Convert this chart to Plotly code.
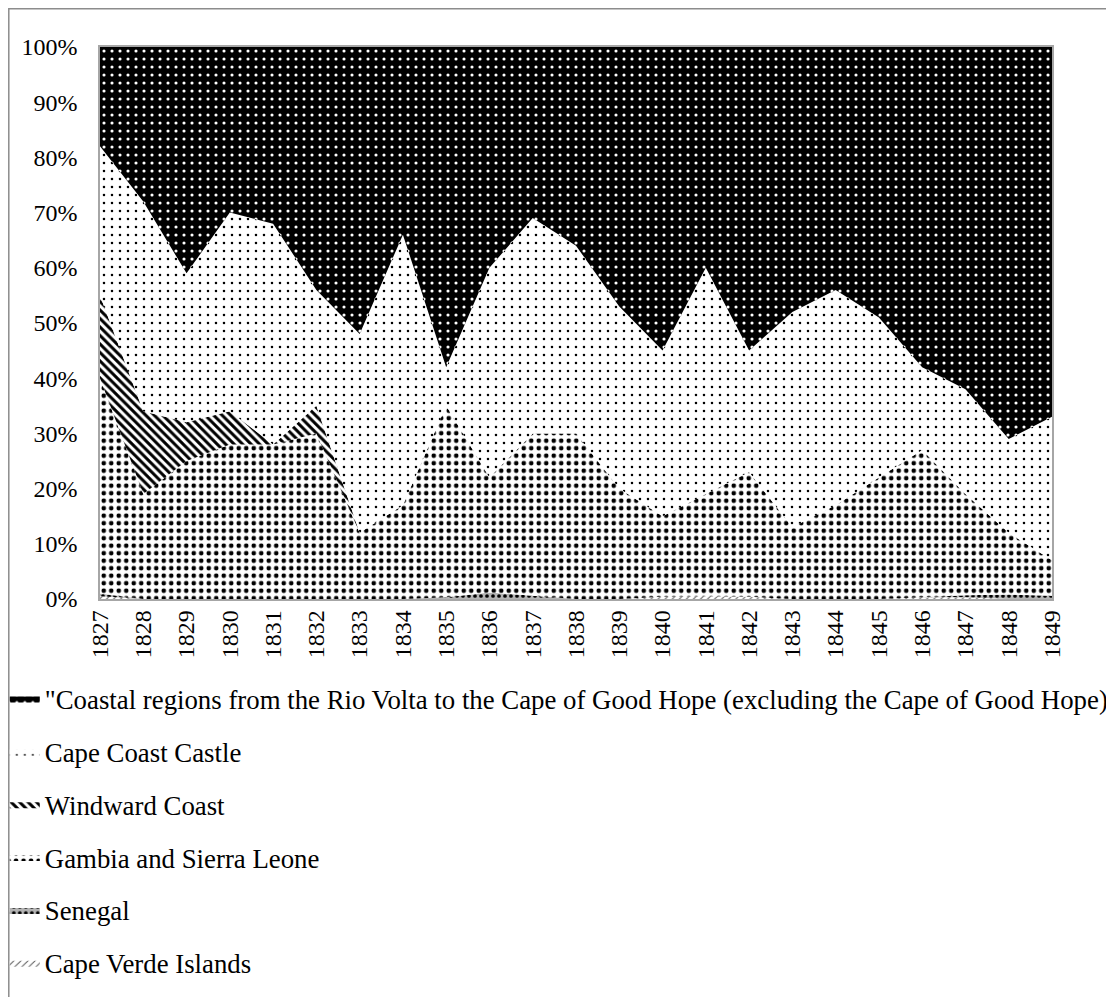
import plotly.graph_objects as go

years = list(range(1827, 1850))

# shares per year (percent of the total)
cape_verde = [0.5, 0, 0, 0, 0, 0, 0, 0, 0, 0, 0, 0, 0, 0.4, 0.5, 0.4, 0, 0, 0, 0.3, 0.3, 0, 0]
senegal = [0.5, 0, 0, 0, 0, 0, 0, 0, 0.3, 1.2, 0.6, 0, 0, 0, 0, 0, 0, 0, 0, 0, 0.4, 0.8, 0.6]
gambia_sierra_leone = [39, 19, 25, 28, 28, 30, 12, 17, 34.7, 20.8, 29.4, 30, 20, 14.6, 18.5,
                       22.6, 13, 17, 22, 26.7, 18.3, 11.2, 6.4]
windward_coast = [15, 15, 7, 6, 0, 5, 0, 0, 0, 0, 0, 0, 0, 0, 0, 0, 0, 0, 0, 0, 0, 0, 0]
cape_coast_castle = [27, 38, 27, 36, 40, 21, 36, 49, 7, 38, 39, 34, 33, 30, 41, 22, 39, 39,
                     29, 15, 19, 17, 26]
coastal_volta_cape = [18, 28, 41, 30, 32, 44, 52, 34, 58, 40, 31, 36, 47, 55, 40, 55, 48, 44,
                      49, 58, 62, 71, 67]

y_ticks = list(range(0, 101, 10))
y_ticktext = [f"{v}%" for v in y_ticks]

series = [
    ("Cape Verde Islands", cape_verde,
     dict(shape="/", fgcolor="#555555", bgcolor="white", size=5, solidity=0.2)),
    ("Senegal", senegal,
     dict(shape=".", fgcolor="black", bgcolor="#b4b4b4", size=6, solidity=0.3)),
    ("Gambia and Sierra Leone", gambia_sierra_leone,
     dict(shape=".", fgcolor="black", bgcolor="white", size=7.5, solidity=0.3)),
    ("Windward Coast", windward_coast,
     dict(shape="\\", fgcolor="black", bgcolor="white", size=6, solidity=0.5)),
    ("Cape Coast Castle", cape_coast_castle,
     dict(shape=".", fgcolor="black", bgcolor="white", size=8, solidity=0.08)),
    ("\"Coastal regions from the Rio Volta to the Cape of Good Hope (excluding the Cape of Good Hope)",
     coastal_volta_cape,
     dict(shape=".", fgcolor="white", bgcolor="black", size=8, solidity=0.12)),
]

FONT = "Liberation Serif, Times New Roman, serif"

fig = go.Figure()
for i, (name, vals, pat) in enumerate(series):
    fig.add_trace(
        go.Scatter(
            x=years,
            y=vals,
            name=name,
            mode="lines",
            stackgroup="one",
            groupnorm="percent",
            line=dict(width=0, color="#888888"),
            fillcolor=pat["bgcolor"],
            fillpattern=dict(fillmode="replace", **pat),
            legendgroup=f"g{i}",
            legendrank=100 - i,
            hoverinfo="skip",
        )
    )

# page body adds an 8px margin, so the figure is 8px smaller than the window
fig.update_layout(
    width=1106,
    height=989,
    margin=dict(l=92, r=62, t=39, b=398, autoexpand=False),
    paper_bgcolor="white",
    plot_bgcolor="white",
    font=dict(family=FONT, size=24, color="black"),
    showlegend=True,
    legend=dict(
        x=-0.1,
        xanchor="left",
        y=-0.137,
        yanchor="top",
        orientation="v",
        traceorder="grouped",
        tracegroupgap=15,
        font=dict(family=FONT, size=26.8, color="black"),
        bgcolor="rgba(0,0,0,0)",
    ),
    shapes=[
        dict(type="rect", xref="paper", yref="paper",
             x0=-0.0958, x1=1.062, y0=-0.75, y1=1.0693,
             line=dict(color="#8c8c8c", width=1.5), layer="below"),
    ],
)

fig.update_xaxes(
    range=[1827, 1849],
    tickvals=years,
    ticktext=[str(y) for y in years],
    tickangle=-90,
    ticks="",
    showgrid=False,
    zeroline=False,
    showline=True,
    mirror=True,
    linecolor="#a6a6a6",
    linewidth=1.5,
)
fig.update_yaxes(
    range=[0, 100],
    tickvals=y_ticks,
    ticktext=y_ticktext,
    ticks="",
    ticklabelstandoff=16,
    showgrid=False,
    zeroline=False,
    showline=True,
    mirror=True,
    linecolor="#a6a6a6",
    linewidth=1.5,
)

fig.write_html("out.html")
